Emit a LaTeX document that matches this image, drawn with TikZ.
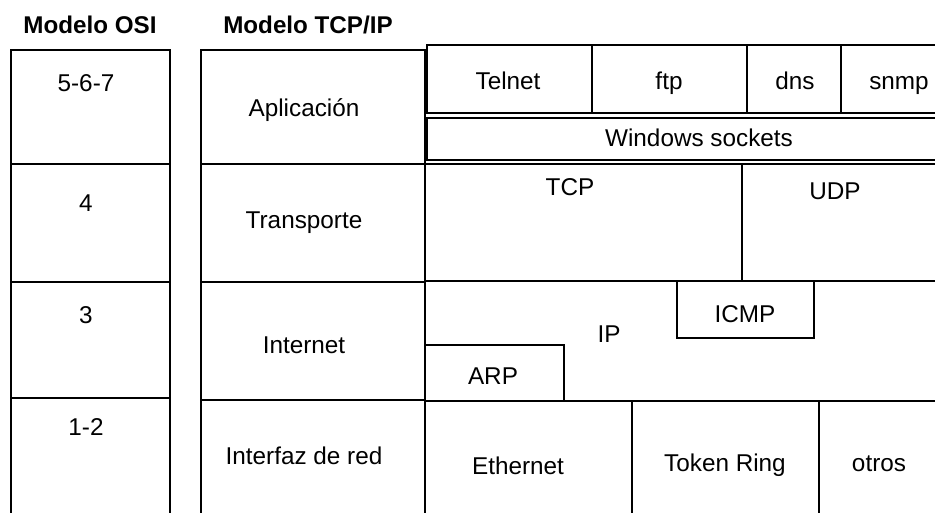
\documentclass[tikz,border=0pt]{standalone}
\usepackage{fontspec}
\setmainfont{Liberation Sans}
\begin{document}
\begin{tikzpicture}[x=1pt,y=-1pt,
  grid/.style={line width=1.6pt,line cap=rect,line join=miter},
  lbl/.style={inner sep=0pt,text height=17.4pt,text depth=0pt,
    font=\fontsize{24.3}{28}\selectfont},
  ttl/.style={inner sep=0pt,text height=17.4pt,text depth=0pt,
    font=\fontsize{24.2}{28}\selectfont\bfseries}]
\useasboundingbox[fill=white] (0,0) rectangle (935,513);

% column titles
\node[ttl] (tosi) at (90,25) {Modelo OSI};
\node[ttl] (ttcp) at (308,25) {Modelo TCP/IP};

% OSI column (open at the bottom)
\draw[grid] (11,514) -- (11,50) -- (170,50) -- (170,514);
\draw[grid] (11,164) -- (170,164) (11,282) -- (170,282) (11,398) -- (170,398);
\node[lbl] (osi7) at (86,83) {5-6-7};
\node[lbl] (osi4) at (86,203) {4};
\node[lbl] (osi3) at (86,315) {3};
\node[lbl] (osi1) at (86,427) {1-2};

% TCP/IP column
\draw[grid] (201,514) -- (201,50) -- (425,50) -- (425,514);
\draw[grid] (201,164) -- (425,164) (201,282) -- (425,282) (201,400) -- (425,400);
\node[lbl] (apl) at (304,108) {Aplicación};
\node[lbl] (tra) at (304,220) {Transporte};
\node[lbl] (int) at (304,345) {Internet};
\node[lbl] (ifr) at (304,456) {Interfaz de red};

% application protocols
\draw[grid] (940,45) -- (427,45) -- (427,113) -- (940,113);
\draw[grid] (592,45) -- (592,113) (747,45) -- (747,113) (841,45) -- (841,113);
\node[lbl] (telnet) at (508,81) {Telnet};
\node[lbl] (ftp) at (669,81) {ftp};
\node[lbl] (dns) at (795,81) {dns};
\node[lbl] (snmp) at (899,81) {snmp};

% sockets interface
\draw[grid] (940,118) -- (427,118) -- (427,160) -- (940,160);
\node[lbl] (wsock) at (699,138) {Windows sockets};

% transport layer
\draw[grid] (425,164) -- (940,164) (742,164) -- (742,281) (425,281) -- (940,281);
\node[lbl] (tcp) at (570,187) {TCP};
\node[lbl] (udp) at (835,191) {UDP};

% internet layer
\draw[grid] (677,281) -- (677,338) -- (814,338) -- (814,281);
\node[lbl] (icmp) at (745,314) {ICMP};
\node[lbl] (ip) at (609,334) {IP};
\draw[grid] (425,345) -- (564,345) -- (564,401);
\node[lbl] (arp) at (493,376) {ARP};

% network interface layer
\draw[grid] (425,401) -- (940,401);
\draw[grid] (632,401) -- (632,514) (819,401) -- (819,514);
\node[lbl] (eth) at (518,466) {Ethernet};
\node[lbl] (tok) at (725,463) {Token Ring};
\node[lbl] (otr) at (879,463) {otros};
\end{tikzpicture}
\end{document}
